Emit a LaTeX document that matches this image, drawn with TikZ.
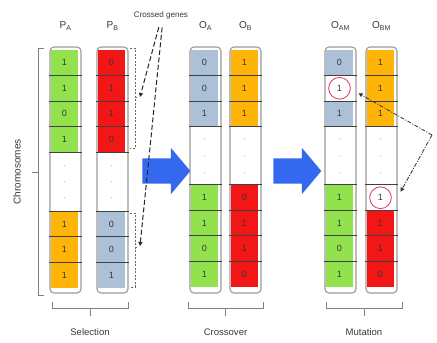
\documentclass[tikz,border=0pt]{standalone}
\usepackage{fontspec}
\setmainfont{Liberation Sans}
\usetikzlibrary{arrows.meta, positioning, shapes.geometric, shapes.arrows, calc}

\definecolor{geneGreen}{RGB}{146,226,78}
\definecolor{geneRed}{RGB}{242,22,22}
\definecolor{geneOrange}{RGB}{255,180,8}
\definecolor{geneBlue}{RGB}{172,192,216}
\definecolor{bigBlue}{RGB}{52,104,238}
\definecolor{ringRed}{RGB}{222,60,90}
\definecolor{txtGray}{RGB}{55,55,55}

\begin{document}
\begin{tikzpicture}[
  x=0.35mm, y=-0.35mm,
  font=\fontsize{9}{10}\selectfont,
  chrom/.style={draw=black!40, line width=1.1pt, rounded corners=4pt,
                minimum width=10.85mm, minimum height=86.1mm, inner sep=0pt},
  gene/.style={minimum width=9.45mm, minimum height=8.925mm, inner sep=0pt,
               text=txtGray},
  sep/.style={line width=0.9pt, black!75},
  lab/.style={inner sep=0pt, text=txtGray, font=\fontsize{10}{11}\selectfont},
  stage/.style={inner sep=0pt, text=txtGray, font=\fontsize{9.5}{11}\selectfont},
  brack/.style={draw=black!50, line width=0.7pt},
  dbrack/.style={draw=black!60, line width=0.6pt, dash pattern=on 2pt off 1.5pt},
  ring/.style={draw=ringRed, circle, line width=0.8pt, minimum size=7.6mm,
               inner sep=0pt},
  bigarrow/.style={single arrow, fill=bigBlue, inner xsep=0pt, inner ysep=4.375mm,
                   minimum height=16.8mm, minimum width=16.1mm,
                   single arrow head extend=3.675mm, single arrow tip angle=100},
  cgarr/.style={-{Triangle[length=4pt,width=4pt]}, line width=1pt, black!85,
                dash pattern=on 5pt off 2.5pt, shorten <=3mm},
  mutarr/.style={-{Triangle[length=4pt,width=4pt]}, line width=0.8pt, black!80,
                 dash pattern=on 4pt off 1.5pt on 1pt off 1.5pt}
]
\useasboundingbox (0,0) rectangle (437,342);

% Selection: parent chromosomes
\node[chrom] (PA) at (65.5,170) {};
\node[chrom] (PB) at (112.5,170) {};
\foreach \i/\yy/\a/\b in {1/62.75/1/0, 2/88.25/1/1, 3/113.75/0/1, 4/139.25/1/0}{
  \node[gene, fill=geneGreen] (PA\i) at (64.5,\yy) {\a};
  \node[gene, fill=geneRed] (PB\i) at (111.5,\yy) {\b};
}
\foreach \i/\yy/\a/\b in {5/224.25/1/0, 6/249.75/1/0, 7/275.25/1/1}{
  \node[gene, fill=geneOrange] (PA\i) at (64.5,\yy) {\a};
  \node[gene, fill=geneBlue] (PB\i) at (111.5,\yy) {\b};
}
\foreach \c in {PA,PB}{
  \foreach \i in {1,2,3,4}
    \draw[sep] (\c.west |- \c\i.south) -- (\c.east |- \c\i.south);
  \foreach \i in {5,6,7}
    \draw[sep] (\c.west |- \c\i.north) -- (\c.east |- \c\i.north);
  \coordinate (\c gap) at ($(\c4.south)!0.5!(\c5.north)$);
  \foreach \d in {-16,0,16}
    \fill[black!35] ($(\c gap)+(0,\d)$) circle (0.5pt);
}
\node[lab, above=5.6mm of PA] (PAlab) {P\textsubscript{A}};
\node[lab, above=5.6mm of PB] (PBlab) {P\textsubscript{B}};

% Crossover: offspring
\node[chrom] (OA) at (205.5,170) {};
\node[chrom] (OB) at (245.5,170) {};
\foreach \i/\yy/\a/\b in {1/62.75/0/1, 2/88.25/0/1, 3/113.75/1/1}{
  \node[gene, fill=geneBlue] (OA\i) at (204.5,\yy) {\a};
  \node[gene, fill=geneOrange] (OB\i) at (244.5,\yy) {\b};
}
\foreach \i/\yy/\a/\b in {4/197.75/1/0, 5/223.25/1/1, 6/248.75/0/1, 7/274.25/1/0}{
  \node[gene, fill=geneGreen] (OA\i) at (204.5,\yy) {\a};
  \node[gene, fill=geneRed] (OB\i) at (244.5,\yy) {\b};
}
\node[lab, above=5.6mm of OA] (OAlab) {O\textsubscript{A}};
\node[lab, above=5.6mm of OB] (OBlab) {O\textsubscript{B}};

% Mutation: mutated offspring
\node[chrom] (OAM) at (340.5,170) {};
\node[chrom] (OBM) at (381.5,170) {};
\foreach \i/\yy/\a/\col in {1/62.75/0/geneBlue, 2/88.25/1/white, 3/113.75/1/geneBlue,
                          4/197.75/1/geneGreen, 5/223.25/1/geneGreen,
                          6/248.75/0/geneGreen, 7/274.25/1/geneGreen}
  \node[gene, fill=\col] (OAM\i) at (339.5,\yy) {\a};
\foreach \i/\yy/\b/\col in {1/62.75/1/geneOrange, 2/88.25/1/geneOrange,
                          3/113.75/1/geneOrange, 4/197.75/1/white,
                          5/223.25/1/geneRed, 6/248.75/1/geneRed, 7/274.25/0/geneRed}
  \node[gene, fill=\col] (OBM\i) at (380.5,\yy) {\b};
\node[lab, above=5.6mm of OAM] (OAMlab) {O\textsubscript{AM}};
\node[lab, above=5.6mm of OBM] (OBMlab) {O\textsubscript{BM}};

\foreach \c in {OA,OB,OAM,OBM}{
  \foreach \i in {1,2,3}
    \draw[sep] (\c.west |- \c\i.south) -- (\c.east |- \c\i.south);
  \foreach \i in {4,5,6,7}
    \draw[sep] (\c.west |- \c\i.north) -- (\c.east |- \c\i.north);
  \coordinate (\c gap) at ($(\c3.south)!0.5!(\c4.north)$);
  \foreach \d in {-17,0,17}
    \fill[black!35] ($(\c gap)+(0,\d)$) circle (0.5pt);
}
\node[ring] (cAM) at (OAM2) {};
\node[ring] (cBM) at (OBM4) {};

% Chromosomes bracket
\draw[brack] (44,48) -- (38,48) -- (38,295) -- (44,295);
\draw[brack] (38,172) -- (32,172);
\node[lab, rotate=90] (chromlab) at (17,172) {Chromosomes};

% Stage brackets
\foreach \s/\xl/\xr/\txt in {sel/52/128/Selection, cro/188/263/Crossover,
                            mut/326/402/Mutation}{
  \draw[brack] (\xl,302) -- (\xl,308) -- (\xr,308) -- (\xr,302);
  \draw[brack] ({(\xl+\xr)/2},308) -- ({(\xl+\xr)/2},316);
  \node[stage] (\s lab) at ({(\xl+\xr)/2},332) {\txt};
}

% Crossed genes brackets
\draw[dbrack] (130,48) -- (135,48) -- (135,148) -- (130,148) (135,97) -- (138,97);
\draw[dbrack] (130,213) -- (135,213) -- (135,287) -- (130,287) (135,247) -- (138,247);
\coordinate (cgUp) at (140,97);
\coordinate (cgDown) at (140,246);

% Big arrows
\node[bigarrow] (sel2cro) at (161,171) {};
\node[bigarrow] (cro2mut) at (292,171) {};

% Crossed genes
\node[inner sep=0pt, text=txtGray, font=\fontsize{8}{9}\selectfont] (cglab) at (161,15) {Crossed genes};
\draw[cgarr] (cglab.south) -- (cgUp);
\draw[cgarr] ($(cglab.south)+(2,0)$) -- (cgDown);

% Mutated genes
\coordinate (mutKnee) at (432,135);
\draw[mutarr] (mutKnee) -- ($(OAM.east |- cAM)+(2,5)$);
\draw[mutarr] (mutKnee) -- ($(OBM.east |- cBM)+(3,-6)$);

\end{tikzpicture}
\end{document}
